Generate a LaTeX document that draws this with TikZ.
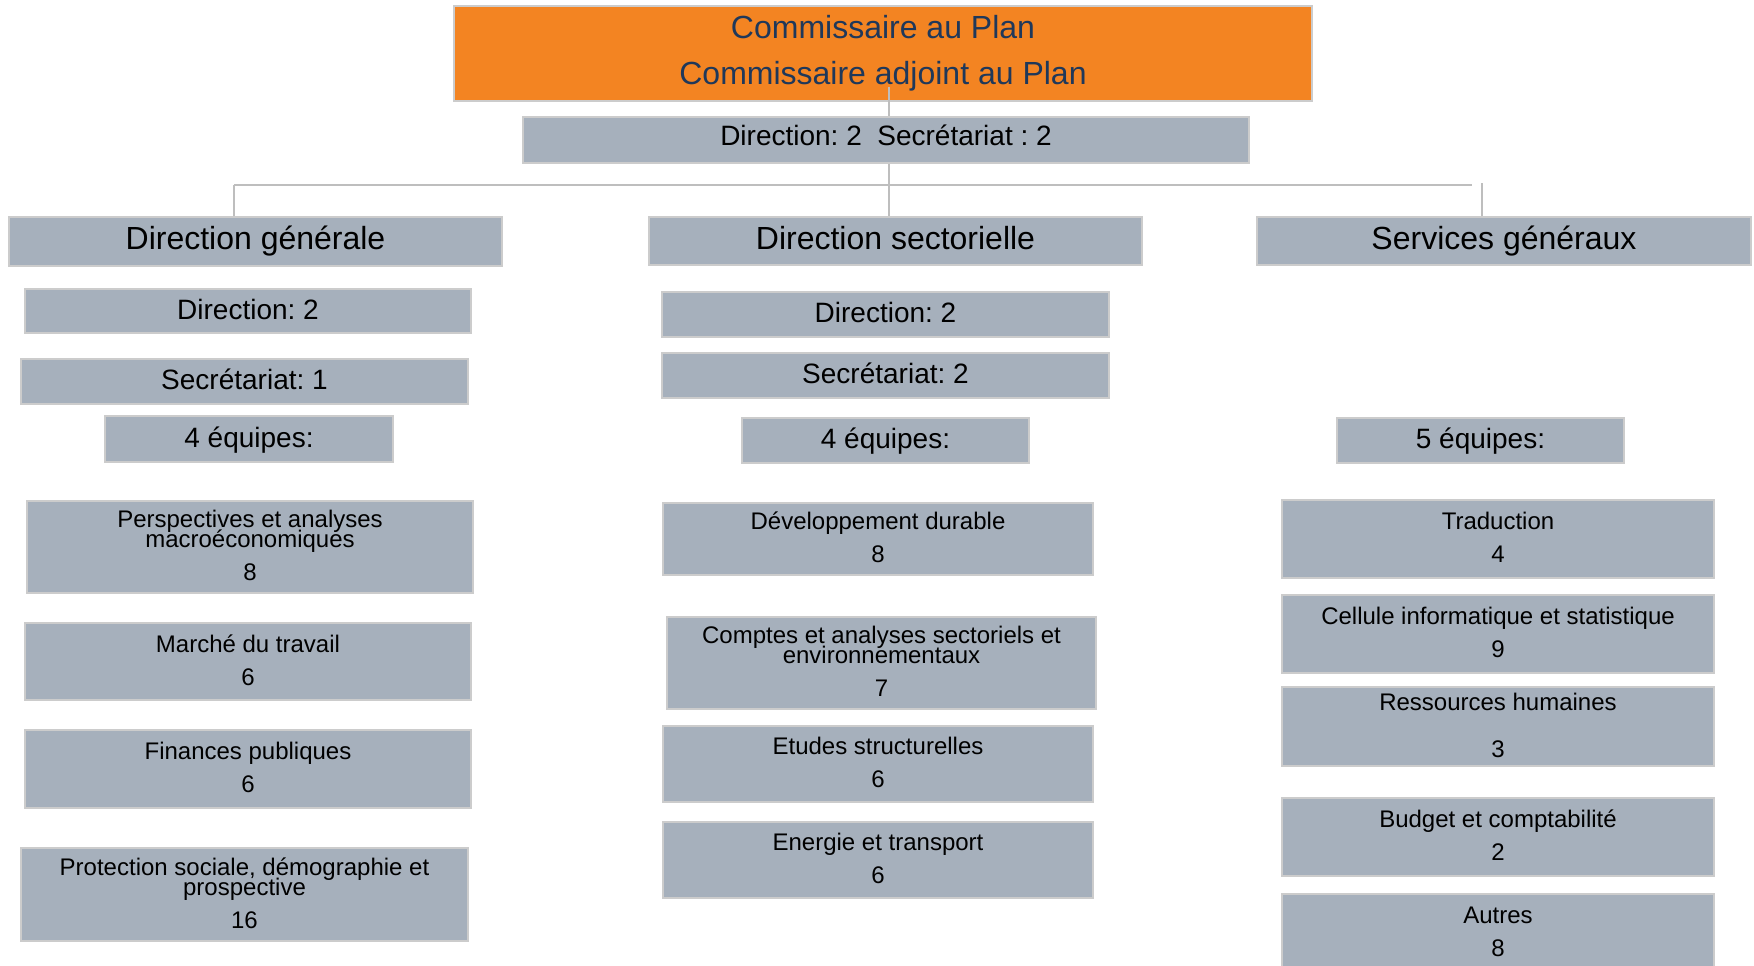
\documentclass[tikz,border=0pt]{standalone}
\usepackage{fontspec}
\setmainfont{Liberation Sans}
\definecolor{boxfill}{RGB}{166,176,188}
\definecolor{boxline}{RGB}{204,204,204}
\definecolor{planorange}{RGB}{243,132,34}
\definecolor{planblue}{RGB}{31,56,90}
\definecolor{linegray}{RGB}{190,190,190}
\begin{document}
\frenchspacing
\begin{tikzpicture}
  [x=1pt,y=-1pt,
   every node/.style={rectangle,inner sep=0pt,draw=boxline,line width=1.5pt,fill=boxfill,align=center},
   sz/.style 2 args={minimum width=#1pt,minimum height=#2pt},
   chef/.style={fill=planorange,text=planblue,font=\fontsize{32}{46}\selectfont},
   head/.style={font=\fontsize{32}{38}\selectfont,text height=23pt,text depth=7pt},
   staff/.style={font=\fontsize{28}{34}\selectfont,text height=21pt,text depth=5pt},
   team/.style={font=\fontsize{24}{20}\selectfont,
     execute at begin node={\setlength{\lineskiplimit}{-30pt}},
     execute at end node={\vrule depth 3pt height 0pt width 0pt}},
   link/.style={draw=linegray,line width=2.5pt}]
\useasboundingbox (0,0) rectangle (1754,966);

\node (top)[chef,sz={858}{95}] at (883,53.5) {Commissaire au Plan\\Commissaire adjoint au Plan};
\node (mid)[staff,text depth=9.5pt,sz={726}{46}] at (886,140) {Direction: 2~~Secrétariat : 2};

\node (dg)[head,sz={493}{49}] at (255.5,241.5) {Direction générale};
\node (ds)[head,sz={493}{48}] at (895.5,241) {Direction sectorielle};
\node (sg)[head,sz={494}{48}] at (1504,241) {Services généraux};

% direction generale
\node (dg1)[staff,sz={446}{44}] at (248,311) {Direction: 2};
\node (dg2)[staff,sz={447}{45}] at (244.5,381.5) {Secrétariat: 1};
\node (dg3)[staff,sz={288}{46}] at (249,439) {4 équipes:};
\node (dgA)[team,sz={446}{92}] at (250,547) {Perspectives et analyses\\macroéconomiques\\[13pt]8};
\node (dgB)[team,sz={446}{77}] at (248,661.5) {Marché du travail\\[13pt]6};
\node (dgC)[team,sz={446}{78}] at (248,769) {Finances publiques\\[13pt]6};
\node (dgD)[team,sz={447}{93}] at (244.5,894.5) {Protection sociale, démographie et\\prospective\\[13pt]16};

% direction sectorielle
\node (ds1)[staff,sz={447}{45}] at (885.5,314.5) {Direction: 2};
\node (ds2)[staff,sz={447}{45}] at (885.5,375.5) {Secrétariat: 2};
\node (ds3)[staff,sz={287}{45}] at (885.5,440.5) {4 équipes:};
\node (dsA)[team,sz={430}{72}] at (878,539) {Développement durable\\[13pt]8};
\node (dsB)[team,sz={429}{92}] at (881.5,663) {Comptes et analyses sectoriels et\\environnementaux\\[13pt]7};
\node (dsC)[team,sz={430}{76}] at (878,764) {Etudes structurelles\\[13pt]6};
\node (dsD)[team,sz={430}{76}] at (878,860) {Energie et transport\\[13pt]6};

% services generaux
\node (sg3)[staff,sz={287}{45}] at (1480.5,440.5) {5 équipes:};
\node (sgA)[team,sz={432}{78}] at (1498,539) {Traduction\\[13pt]4};
\node (sgB)[team,sz={432}{78}] at (1498,634) {Cellule informatique et statistique\\[13pt]9};
\node (sgC)[team,sz={432}{79}] at (1498,726.5) {Ressources humaines\\[27pt]3};
\node (sgD)[team,sz={432}{78}] at (1498,837) {Budget et comptabilité\\[13pt]2};
\node (sgE)[team,sz={432}{78}] at (1498,933) {Autres\\[13pt]8};

\coordinate (bar) at (889,185);
\coordinate (barL) at (234,185);
\coordinate (barR) at (1472,185);
\coordinate (sgTop) at (1482,183);

\draw[link] ([yshift=-34pt]top.center -| bar) -- (mid.north -| bar);
\draw[link] (mid.south -| bar) -- (ds.north -| bar);
\draw[link] (barL) -- (barR);
\draw[link] (barL) -- (dg.north -| barL);
\draw[link] (sgTop) -- (sg.north -| sgTop);
\end{tikzpicture}
\end{document}
